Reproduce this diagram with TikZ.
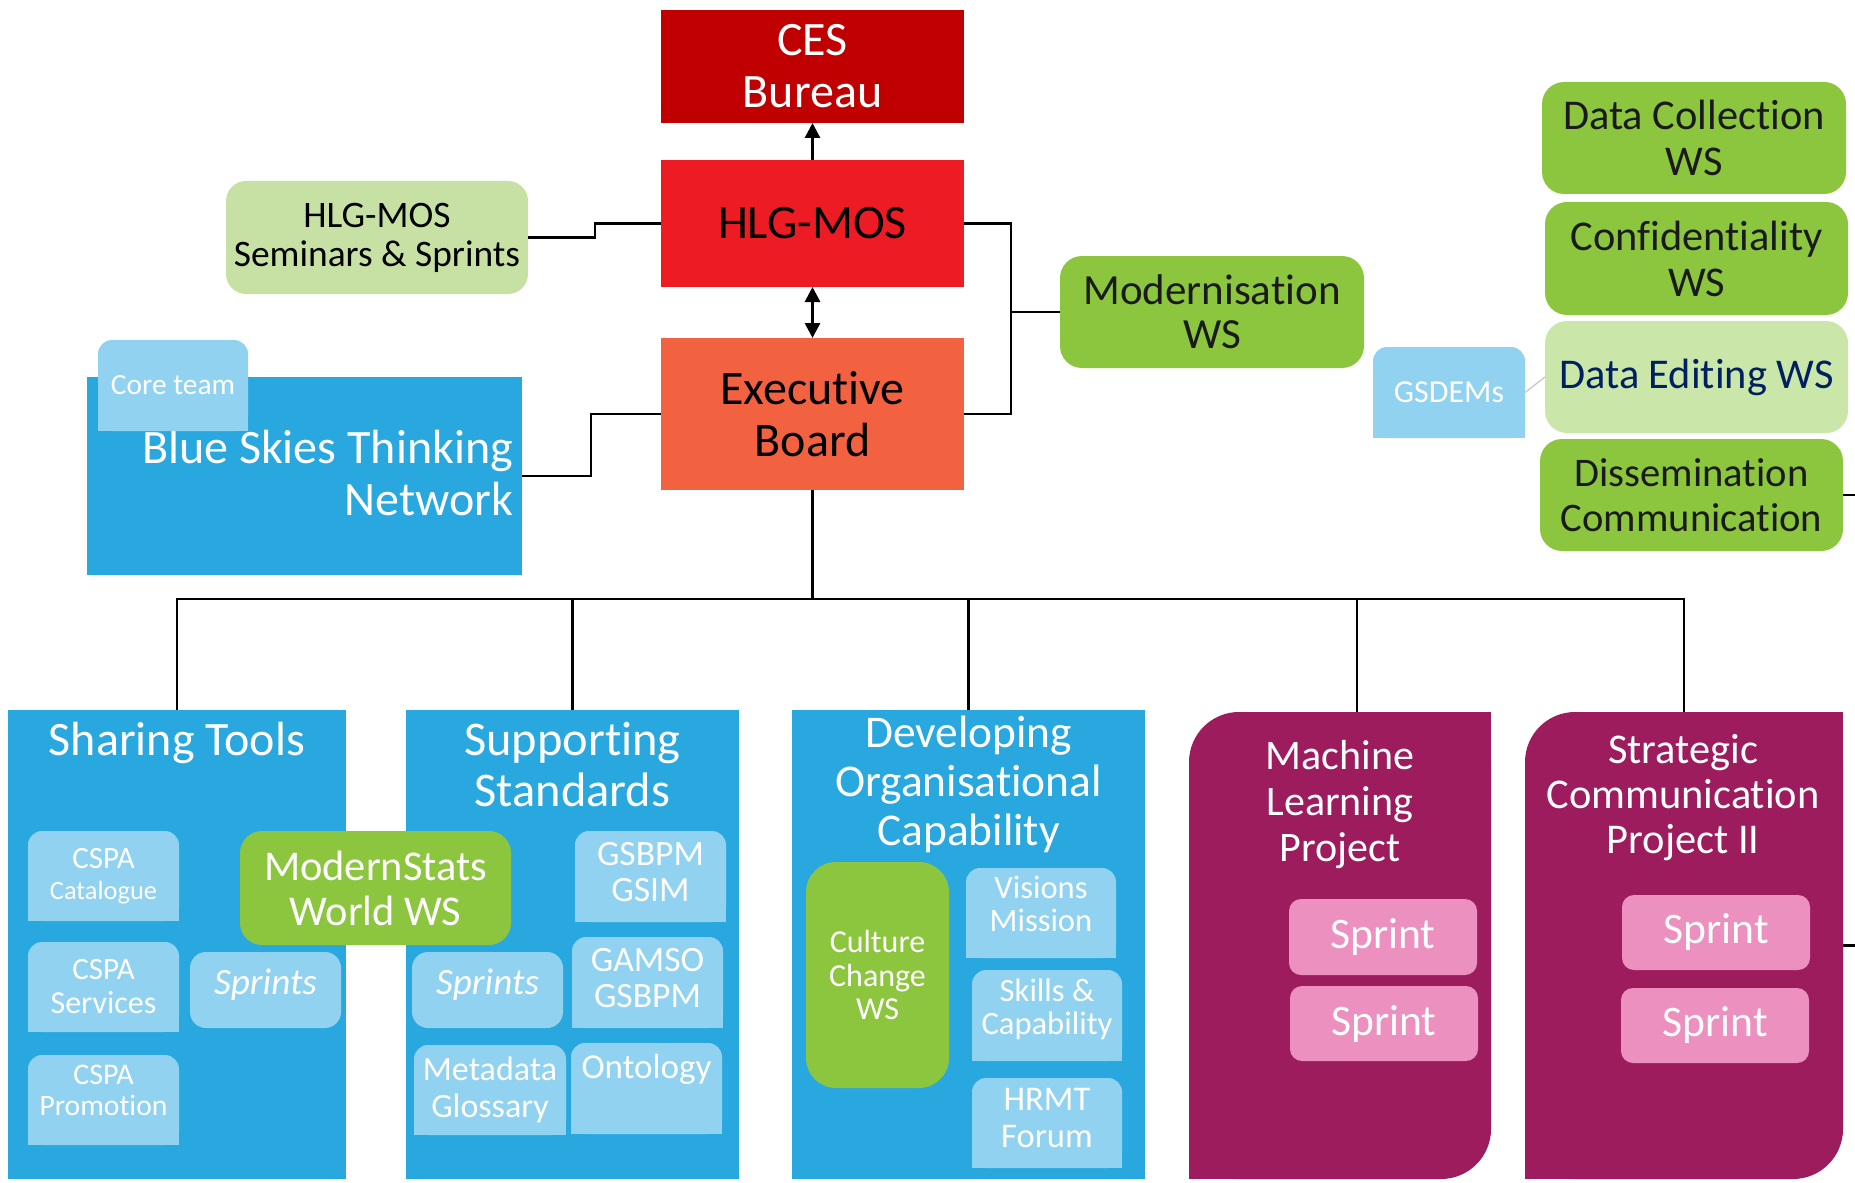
\documentclass[tikz,border=0pt]{standalone}
\usepackage{fontspec}
\setmainfont{Carlito}[Ligatures=NoCommon]
\usetikzlibrary{arrows.meta}
\definecolor{cesred}{HTML}{C00000}
\definecolor{hlgred}{HTML}{ED1C24}
\definecolor{exor}{HTML}{F26241}
\definecolor{semgreen}{HTML}{C6E1A3}
\definecolor{degreen}{HTML}{CAE7A9}
\definecolor{wsgreen}{HTML}{8CC63F}
\definecolor{bsblue}{HTML}{29A8E0}
\definecolor{lblue}{HTML}{91D2F0}
\definecolor{purp}{HTML}{9D1C5E}
\definecolor{spink}{HTML}{EB90BF}
\definecolor{navy}{HTML}{002060}
\definecolor{dtext}{HTML}{1A1A1A}
\newcommand\myfs[2]{\fontsize{#1}{#2}\selectfont}
\begin{document}
\begin{tikzpicture}[x=0.5pt,y=-0.5pt,
 >={Triangle[width=7.5pt,length=7.5pt]},
 sq/.style={inner sep=0pt, outer sep=0pt, align=center},
 rbox/.style={sq, rounded corners=#1},
 topr/.style={sq, text=white, path picture={
   \fill[#1,rounded corners=7pt] (path picture bounding box.north west) rectangle (path picture bounding box.south east);
   \fill[#1] (path picture bounding box.west) rectangle (path picture bounding box.south east);}},
 diag/.style={sq, path picture={
   \fill[purp,rounded corners=25pt] (path picture bounding box.north west) rectangle (path picture bounding box.south east);
   \fill[purp] (path picture bounding box.north) rectangle (path picture bounding box.east);
   \fill[purp] (path picture bounding box.west) rectangle (path picture bounding box.south);}},
 conn/.style={line width=1.3pt, black},
 txt/.style={inner sep=0pt, outer sep=0pt, align=center, text=white}
]
\useasboundingbox (0,0) rectangle (1855,1182);

% ---------- top part ----------
\node[sq, fill=cesred, text=white, minimum width=151.5pt, minimum height=56.5pt, font=\myfs{24}{26}] (ces) at (812.5,66.5) {CES\\Bureau};
\node[sq, fill=hlgred, minimum width=151.5pt, minimum height=63.5pt, font=\myfs{24}{26}] (hlg) at (812.5,223.5) {HLG-MOS};
\node[sq, fill=exor, minimum width=151.5pt, minimum height=76pt, font=\myfs{24}{26}] (exec) at (812.5,414) {Executive\\Board};
\node[rbox=10pt, fill=semgreen, minimum width=151pt, minimum height=56.5pt, font=\myfs{18.7}{19.5}] (sem) at (377,237.5) {HLG-MOS\\Seminars \& Sprints};

\node[sq, fill=bsblue, minimum width=217.5pt, minimum height=99pt] (bst) at (304.5,476) {};
\node[txt, anchor=east, align=right, font=\myfs{24}{26}] (bstT) at (513,473) {Blue Skies Thinking\\Network};
\node[topr=lblue, minimum width=75pt, minimum height=45.5pt, font=\myfs{14.7}{16}] (core) at (173,385.5) {Core team};

\node[rbox=11pt, fill=wsgreen, text=dtext, minimum width=152pt, minimum height=56pt, font=\myfs{21.5}{22}] (mod) at (1212,312) {Modernisation\\WS};
\node[topr=lblue, minimum width=76pt, minimum height=45.5pt, font=\myfs{16}{17}] (gsd) at (1449,392.5) {GSDEMs};

\node[rbox=11pt, fill=wsgreen, text=dtext, minimum width=152pt, minimum height=56pt, font=\myfs{21.2}{23}] (dcol) at (1694,138) {Data Collection\\WS};
\node[rbox=11pt, fill=wsgreen, text=dtext, minimum width=151.5pt, minimum height=56.5pt, font=\myfs{21.2}{23}] (conf) at (1696.5,258.5) {Confidentiality\\WS};
\node[rbox=11pt, fill=degreen, text=navy, minimum width=151.5pt, minimum height=56pt, font=\myfs{21.2}{23}] (dedit) at (1696.5,377) {Data Editing WS};
\node[rbox=11pt, fill=wsgreen, text=dtext, minimum width=151.5pt, minimum height=56pt, font=\myfs{20.3}{22.5}] (diss) at (1691.5,495) {Dissemination\\Communication};

% ---------- panels ----------
\node[sq, fill=bsblue, minimum width=169pt, minimum height=234.5pt] (share) at (177,944.5) {};
\node[sq, fill=bsblue, minimum width=166.5pt, minimum height=234.5pt] (supp) at (572.5,944.5) {};
\node[sq, fill=bsblue, minimum width=176.5pt, minimum height=234.5pt] (dev) at (968.5,944.5) {};
\node[diag, minimum width=151pt, minimum height=233.5pt] (ml) at (1340,945.5) {};
\node[diag, minimum width=159pt, minimum height=233.5pt] (sc) at (1684,945.5) {};

\node[txt, font=\myfs{24}{25}] (shareT) at (177,743) {Sharing Tools};
\node[txt, font=\myfs{24.2}{25.5}] (suppT) at (572.5,765) {Supporting\\Standards};
\node[txt, font=\myfs{22.7}{24.5}] (devT) at (968.5,784) {Developing\\Organisational\\Capability};
\node[txt, font=\myfs{21}{23}] (mlT) at (1340,805) {Machine\\Learning\\Project};
\node[txt, font=\myfs{21.2}{22.5}] (scT) at (1683,798) {Strategic\\Communication\\Project II};

% ---------- Sharing Tools ----------
\node[topr=lblue, minimum width=75.5pt, minimum height=45pt, font=\myfs{15.5}{15.5}] (cat) at (103.5,876) {CSPA\\\myfs{13.2}{15.5}Catalogue};
\node[topr=lblue, minimum width=75.5pt, minimum height=45pt, font=\myfs{15.5}{17}] (serv) at (103.5,987) {CSPA\\\myfs{16}{17}Services};
\node[topr=lblue, minimum width=75.5pt, minimum height=45pt, font=\myfs{15}{15.5}] (prom) at (103.5,1100) {CSPA\\\myfs{14.8}{15.5}Promotion\\[-6pt]\mbox{}};
\node[rbox=8pt, fill=lblue, text=white, minimum width=75.5pt, minimum height=38pt, text depth=8.5pt, font=\itshape\myfs{18.6}{20}] (spr1) at (265.5,990) {Sprints};

% ---------- Supporting Standards ----------
\node[topr=lblue, minimum width=75.5pt, minimum height=45.5pt, font=\myfs{17.8}{18}] (gsbpm) at (650.5,876.5) {GSBPM\\GSIM\\[-13.5pt]\mbox{}};
\node[rbox=8pt, fill=lblue, text=white, minimum width=75.5pt, minimum height=38pt, text depth=8.5pt, font=\itshape\myfs{18.6}{20}] (spr2) at (487.5,990) {Sprints};
\node[topr=lblue, minimum width=75.5pt, minimum height=45.5pt, font=\myfs{17.8}{18}] (gamso) at (647.5,982.5) {GAMSO\\GSBPM\\[-13pt]\mbox{}};
\node[topr=lblue, minimum width=76pt, minimum height=45pt, font=\myfs{17}{18.5}] (meta) at (490,1090) {Metadata\\Glossary};
\node[topr=lblue, minimum width=75.5pt, minimum height=45.5pt, font=\myfs{17.5}{18.5}] (onto) at (646.5,1088.5) {Ontology\\[3.5pt]\mbox{}};

\node[rbox=11pt, fill=wsgreen, text=white, minimum width=135.5pt, minimum height=57pt, font=\myfs{21.2}{22.5}] (msw) at (375.5,888) {ModernStats\\World WS};

% ---------- Developing ----------
\node[rbox=15pt, fill=wsgreen, text=white, minimum width=71.5pt, minimum height=113pt, font=\myfs{16}{16.9}] (cult) at (877.5,975) {Culture\\Change\\WS};
\node[topr=lblue, minimum width=75pt, minimum height=45pt, font=\myfs{16.3}{16.5}] (vis) at (1041,913) {Visions\\Mission\\[-7pt]\mbox{}};
\node[topr=lblue, minimum width=75pt, minimum height=45.5pt, font=\myfs{16.3}{16.5}] (skill) at (1047,1015.5) {Skills \&\\Capability\\[-7.5pt]\mbox{}};
\node[topr=lblue, minimum width=75pt, minimum height=45pt, font=\myfs{17.3}{18.3}] (hrmt) at (1047,1123) {HRMT\\Forum\\[-13pt]\mbox{}};

% ---------- Sprints ----------
\node[rbox=6pt, fill=spink, text=white, minimum width=94pt, minimum height=38pt, font=\myfs{21.8}{22}] (mls1) at (1383,937) {Sprint};
\node[rbox=6pt, fill=spink, text=white, minimum width=94pt, minimum height=37.5pt, font=\myfs{21.8}{22}] (mls2) at (1384,1023.5) {Sprint};
\node[rbox=6pt, fill=spink, text=white, minimum width=94pt, minimum height=37.5pt, font=\myfs{21.8}{22}] (scs1) at (1716,932.5) {Sprint};
\node[rbox=6pt, fill=spink, text=white, minimum width=94pt, minimum height=37.5pt, font=\myfs{21.8}{22}] (scs2) at (1715,1025.5) {Sprint};

% ---------- connectors ----------
\draw[conn, line width=1.4pt, ->] (hlg) -- (ces);
\draw[conn, line width=1.4pt, <->] (hlg) -- (exec);

\coordinate (lj1) at (595,230);
\coordinate (lj2) at (591,445);
\coordinate (rj) at (1011,312);
\draw[conn] (sem.east) -| (lj1) |- (hlg.west);
\draw[conn] (bst.east) -| (lj2) |- (exec.west);
\draw[conn] (hlg.east) -| (rj) |- (exec.east);
\draw[conn] (mod.west) -- (rj);
\draw[gray!45, line width=0.6pt] (gsd.east) -- (dedit.west);

\coordinate (stub1) at (1855,495);
\coordinate (stub2) at (1855,945.5);
\draw[conn] (diss.east) -- (stub1);
\draw[conn] (sc.east) -- (stub2);

\coordinate (bus) at (812.5,599);
\coordinate (mltop) at (1357,712);
\draw[conn] (exec.south) -- (bus);
\draw[conn] (share.north) -- (share.north |- bus) -- (sc.north |- bus) -- (sc.north);
\draw[conn] (supp.north) -- (supp.north |- bus);
\draw[conn] (dev.north) -- (dev.north |- bus);
\draw[conn] (mltop) -- (mltop |- bus);
\end{tikzpicture}
\end{document}
